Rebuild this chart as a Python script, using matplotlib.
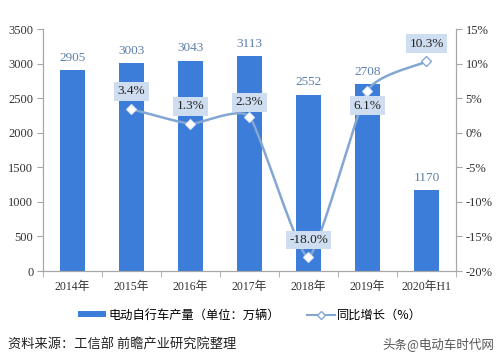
import numpy as np
import matplotlib
matplotlib.use("Agg")
import matplotlib.pyplot as plt
from matplotlib.lines import Line2D
from matplotlib.patches import Patch

categories = ["2014年", "2015年", "2016年", "2017年", "2018年", "2019年", "2020年H1"]
production = [2905, 3003, 3043, 3113, 2552, 2708, 1170]
growth_idx = [1, 2, 3, 4, 5, 6]
growth = [3.4, 1.3, 2.3, -18.0, 6.1, 10.3]
growth_labels = ["3.4%", "1.3%", "2.3%", "-18.0%", "6.1%", "10.3%"]
left_ticks = [0, 500, 1000, 1500, 2000, 2500, 3000, 3500]
right_ticks = [-20, -15, -10, -5, 0, 5, 10, 15]

SERIF = ["Liberation Serif", "Noto Sans CJK SC"]
CJK = ["Noto Sans CJK SC", "DejaVu Sans"]
BAR = "#3b7dd8"
LINE = "#84a6d3"
AX = "#a6a6a6"

fig = plt.figure(figsize=(4.99, 3.64), dpi=100)
ax = fig.add_axes([43/499, 1-271/364, (456-43)/499, (271-29)/364])
x = np.arange(len(categories))
ax.bar(x, production, width=0.41, color=BAR, zorder=2)
ax.set_xlim(-0.5, len(categories)-0.5)
ax.set_ylim(0, 3500)
ax.set_yticks(left_ticks)
ax.set_yticklabels([str(t) for t in left_ticks], family=SERIF, fontsize=9, color="#333333")
ax.set_xticks(x)
ax.set_xticklabels(categories, family=SERIF, fontsize=8.5, color="#333333")
ax.tick_params(axis="x", length=0, pad=7)
ax.set_xticks(np.arange(-0.5, len(categories)), minor=True)
ax.tick_params(axis="x", which="minor", length=4, color=AX, direction="out")
ax.tick_params(axis="y", length=4, color=AX, direction="out", pad=3)
ax.spines["top"].set_visible(False)
for s in ["left", "bottom", "right"]:
    ax.spines[s].set_color(AX)
    ax.spines[s].set_linewidth(0.8)
for xi, v in zip(x, production):
    ax.text(xi, v + 90, str(v), ha="center", va="bottom", family=SERIF,
            fontsize=9.5, color="#5c80aa")

ax2 = ax.twinx()
ax2.set_ylim(-20, 15)
ax2.set_yticks(right_ticks)
ax2.set_yticklabels([f"{t}%" for t in right_ticks], family=SERIF, fontsize=9, color="#333333")
ax2.tick_params(axis="y", length=4, color=AX, direction="out", pad=3)
ax2.spines["top"].set_visible(False)
for s in ["left", "bottom", "right"]:
    ax2.spines[s].set_color(AX)
    ax2.spines[s].set_linewidth(0.8)

# smooth curve (cardinal spline, computed in pixel space) through the data points
fig.canvas.draw()
pts = ax2.transData.transform(np.column_stack([growth_idx, growth]).astype(float))
Pe = np.vstack([2*pts[0]-pts[1], pts, 2*pts[-1]-pts[-2]])
k = 0.5
curve = []
for i in range(1, len(Pe)-2):
    p0, p1, p2, p3 = Pe[i-1], Pe[i], Pe[i+1], Pe[i+2]
    c1 = p1 + k*(p2-p0)/6
    c2 = p2 - k*(p3-p1)/6
    t = np.linspace(0, 1, 50)[:, None]
    b = (1-t)**3*p1 + 3*(1-t)**2*t*c1 + 3*(1-t)*t**2*c2 + t**3*p2
    curve.append(b)
curve = ax2.transData.inverted().transform(np.vstack(curve))
ax2.plot(curve[:, 0], curve[:, 1], color=LINE, lw=1.8, zorder=3, solid_capstyle="round")
px = np.array(growth_idx, float)
py = np.array(growth, float)
ax2.plot(px[:-1], py[:-1], "D", ms=5, mfc="white", mec="#dfe8f5", mew=0.8, zorder=4)
ax2.plot(px[-1:], py[-1:], "D", ms=5, mfc="white", mec=LINE, mew=1.0, zorder=4)

offsets = [2.6, 2.5, 2.1, 2.5, -2.2, 2.6]
for xi, v, lab, off in zip(px, py, growth_labels, offsets):
    ax2.text(xi, v + off, lab, ha="center", va="center", family=SERIF, fontsize=9.5,
             color="#222222", zorder=5,
             bbox=dict(boxstyle="square,pad=0.25", fc="#cfddf1", ec="none"))

handles = [Patch(facecolor=BAR, edgecolor="none"),
           Line2D([0], [0], color=LINE, lw=1.5, marker="D", ms=4, mfc="white", mec=LINE)]
fig.legend(handles, ["电动自行车产量（单位：万辆）", "同比增长（%）"], loc="center",
           bbox_to_anchor=(250/499, 1-315/364), ncol=2, frameon=False,
           prop={"family": CJK, "size": 8.8}, handlelength=2.3, handleheight=0.45,
           columnspacing=2.2, handletextpad=0.2)

fig.text(8/499, 1-345/364, "资料来源：工信部 前瞻产业研究院整理", family=CJK, fontsize=9.5,
         color="#222222", va="center", ha="left")
fig.text(494/499, 1-345/364, "头条@电动车时代网", family=CJK, fontsize=9,
         color="#555555", va="center", ha="right")

fig.savefig("out.png", dpi=100)
